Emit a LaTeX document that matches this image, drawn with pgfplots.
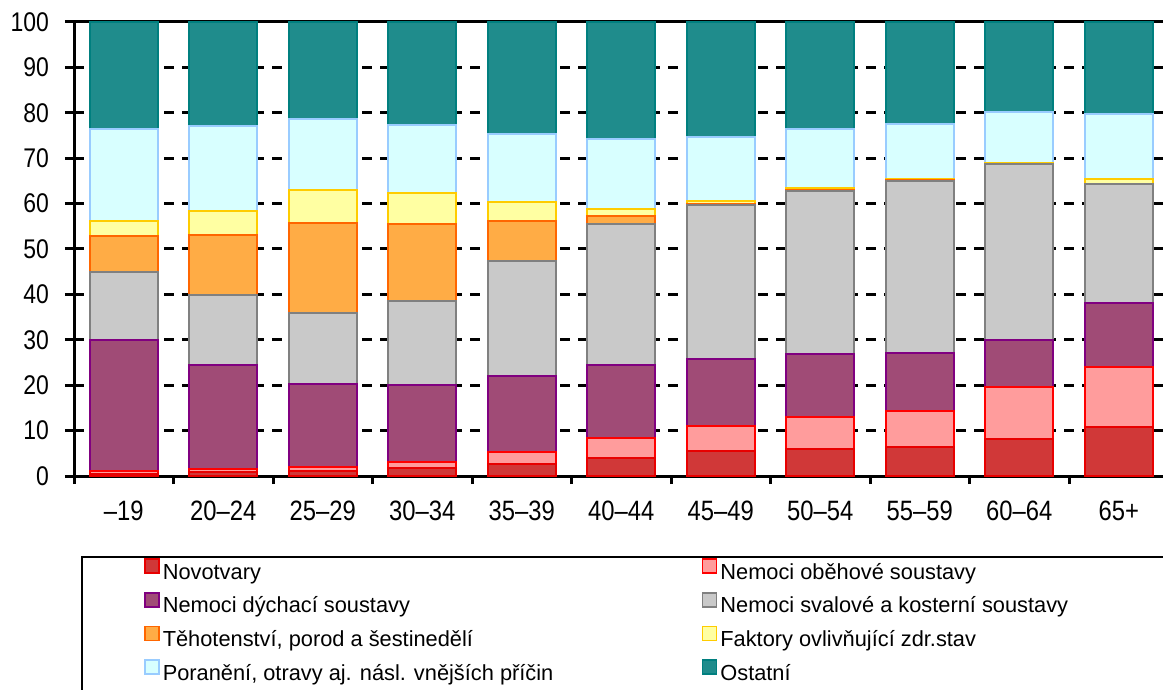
\documentclass[border=0pt]{standalone}
\usepackage{fontspec}
\setmainfont{Liberation Sans}
\newfontfamily\narrowsf{Liberation Sans}[FakeStretch=0.85]
\usepackage{pgfplots}
\usepackage{pgfplotstable}
\pgfplotsset{compat=1.18}
\usetikzlibrary{calc}

% colours: fill, border
\definecolor{novF}{HTML}{D03838}\definecolor{novB}{HTML}{E80000}
\definecolor{obeF}{HTML}{FF9C9C}\definecolor{obeB}{HTML}{FF0000}
\definecolor{dycF}{HTML}{A04B76}\definecolor{dycB}{HTML}{800080}
\definecolor{svaF}{HTML}{C9C9C9}\definecolor{svaB}{HTML}{808080}
\definecolor{tehF}{HTML}{FFAC45}\definecolor{tehB}{HTML}{FF6600}
\definecolor{fakF}{HTML}{FFFFA2}\definecolor{fakB}{HTML}{FFCC00}
\definecolor{porF}{HTML}{D8FFFF}\definecolor{porB}{HTML}{99CCFF}
\definecolor{ostF}{HTML}{1F8C8C}\definecolor{ostB}{HTML}{007F7F}

\pgfplotstableread{
x nov obe dych sval teh fakt por ost
0 0.5 0.6 28.9 15.0 7.9 3.3 20.2 23.6
1 0.8 0.7 22.9 15.5 13.1 5.4 18.8 22.8
2 1.0 0.9 18.4 15.7 19.7 7.4 15.5 21.4
3 1.7 1.4 16.9 18.5 17.0 6.9 15.0 22.6
4 2.6 2.6 16.9 25.3 8.8 4.2 14.9 24.7
5 4.0 4.3 16.2 30.9 1.9 1.5 15.4 25.8
6 5.6 5.5 14.6 34.0 0.2 0.7 14.1 25.3
7 5.9 7.0 13.9 36.0 0.1 0.5 13.0 23.6
8 6.3 8.0 12.7 38.0 0.1 0.3 12.1 22.5
9 8.1 11.4 10.5 38.7 0.0 0.3 11.2 19.8
10 10.9 13.0 14.1 26.4 0.0 1.0 14.3 20.3
}\data

\pgfplotsset{
  seg/.style 2 args={draw=#2, line width=1pt, fill=#1},
}

\begin{document}
\begin{tikzpicture}
\begin{axis}[
  name=ax,
  scale only axis,
  width=547.25pt, height=227pt,
  ybar stacked,
  bar width=0.683,
  xmin=-0.5, xmax=10.5,
  ymin=0, ymax=100,
  ytick={0,10,...,100},
  xtick={0,...,10},
  xticklabels={–19,20–24,25–29,30–34,35–39,40–44,45–49,50–54,55–59,60–64,65+},
  minor xtick={-0.5,0.5,...,10.5},
  major x tick style=transparent,
  xtick pos=bottom, ytick pos=left,
  tick align=outside,
  major tick length=9pt,
  minor tick length=4pt,
  ytick style={xshift=4.5pt},
  tick style={black, line width=1.5pt},
  axis line style={black, line width=1.5pt},
  ymajorgrids,
  major grid style={black, line width=1.5pt, dash pattern=on 5pt off 4pt},
  /pgf/number format/assume math mode=true,
  yticklabel style={font=\narrowsf\fontsize{13.5}{15}\selectfont},
  xticklabel style={font=\narrowsf\fontsize{14}{16}\selectfont},
  legend columns=2,
  legend cell align=left,
  legend image code/.code={\draw[#1, line width=0.8pt] (0pt,0pt) rectangle (7pt,7pt);},
  legend style={at={(0.0064,-0.1762)}, anchor=north west,
    draw=black, line width=1.2pt, inner xsep=31pt, inner ysep=0.5pt,
    column sep=0pt, row sep=1.85pt,
    font=\fontsize{10.9}{13}\selectfont,
    nodes={inner sep=1.5pt, text height=9pt, text depth=3pt}},
]
\addplot[seg={novF}{novB}] table[x=x, y=nov] {\data};
\addlegendentry{\makebox[268pt][l]{Novotvary}}
\addplot[seg={obeF}{obeB}] table[x=x, y=obe] {\data};
\addlegendentry{\makebox[240pt][l]{Nemoci oběhové soustavy}}
\addplot[seg={dycF}{dycB}] table[x=x, y=dych] {\data};
\addlegendentry{\makebox[268pt][l]{Nemoci dýchací soustavy}}
\addplot[seg={svaF}{svaB}] table[x=x, y=sval] {\data};
\addlegendentry{Nemoci svalové a kosterní soustavy}
\addplot[seg={tehF}{tehB}] table[x=x, y=teh] {\data};
\addlegendentry{\makebox[268pt][l]{Těhotenství, porod a šestinedělí}}
\addplot[seg={fakF}{fakB}] table[x=x, y=fakt] {\data};
\addlegendentry{Faktory ovlivňující zdr.stav}
\addplot[seg={porF}{porB}] table[x=x, y=por] {\data};
\addlegendentry{\makebox[268pt][l]{Poranění, otravy aj. násl. vnějších příčin}}
\addplot[seg={ostF}{ostB}] table[x=x, y=ost] {\data};
\addlegendentry{Ostatní}
\addlegendimage{empty legend}\addlegendentry{}
\addlegendimage{empty legend}\addlegendentry{}
\end{axis}
\pgfresetboundingbox
\path[use as bounding box] ($(ax.south west)+(-37pt,-107pt)$) rectangle ($(ax.south west)+(544.5pt,238pt)$);
\end{tikzpicture}
\end{document}
